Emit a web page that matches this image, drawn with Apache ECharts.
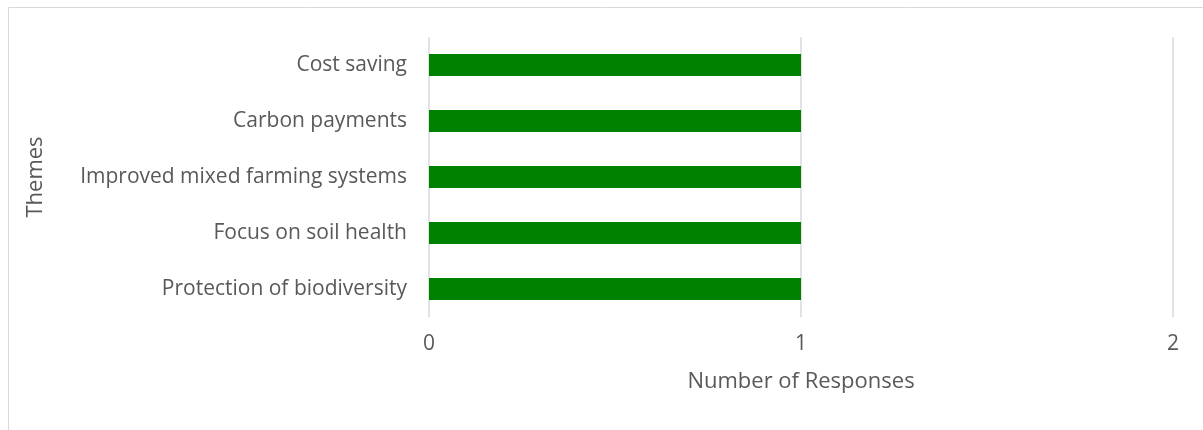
<!DOCTYPE html>
<html><head><meta charset="utf-8">
<script src="https://cdn.jsdelivr.net/npm/echarts@6/dist/echarts.min.js"></script>
<style>html,body{margin:0;padding:0;background:#fff}#c{width:1203px;height:430px}</style>
</head><body><div id="c"></div>
<script>
const categories = ["Protection of biodiversity","Focus on soil health","Improved mixed farming systems","Carbon payments","Cost saving"];
const values = [1,1,1,1,1];
const xTicks = [0,1,2];
const FONT = "Open Sans";
const chart = echarts.init(document.getElementById('c'));
chart.setOption({
  animation:false,
  graphic:[{type:'rect',shape:{x:8.5,y:7.5,width:1400,height:600},style:{fill:'none',stroke:'#d9d9d9',lineWidth:1}}],
  grid:{left:429,top:37,width:744,height:280},
  xAxis:{type:'value',min:xTicks[0],max:xTicks[xTicks.length-1],interval:1,
    name:'Number of Responses',nameLocation:'middle',nameGap:54,
    nameTextStyle:{color:'#595959',fontSize:22,fontFamily:FONT},
    axisLine:{show:false},axisTick:{show:false},
    axisLabel:{color:'#595959',fontSize:21,fontFamily:FONT,margin:17},
    splitLine:{show:true,lineStyle:{color:'#d9d9d9',width:1.5}}},
  yAxis:{type:'category',data:categories,
    name:'Themes',nameLocation:'middle',nameGap:382,nameRotate:90,
    nameTextStyle:{color:'#595959',fontSize:22,fontFamily:FONT},
    axisLine:{show:false},axisTick:{show:false},
    axisLabel:{color:'#595959',fontSize:21,fontFamily:FONT,margin:22}},
  series:[{type:'bar',data:values,barWidth:22,itemStyle:{color:'#008000'}}]
});
</script></body></html>
